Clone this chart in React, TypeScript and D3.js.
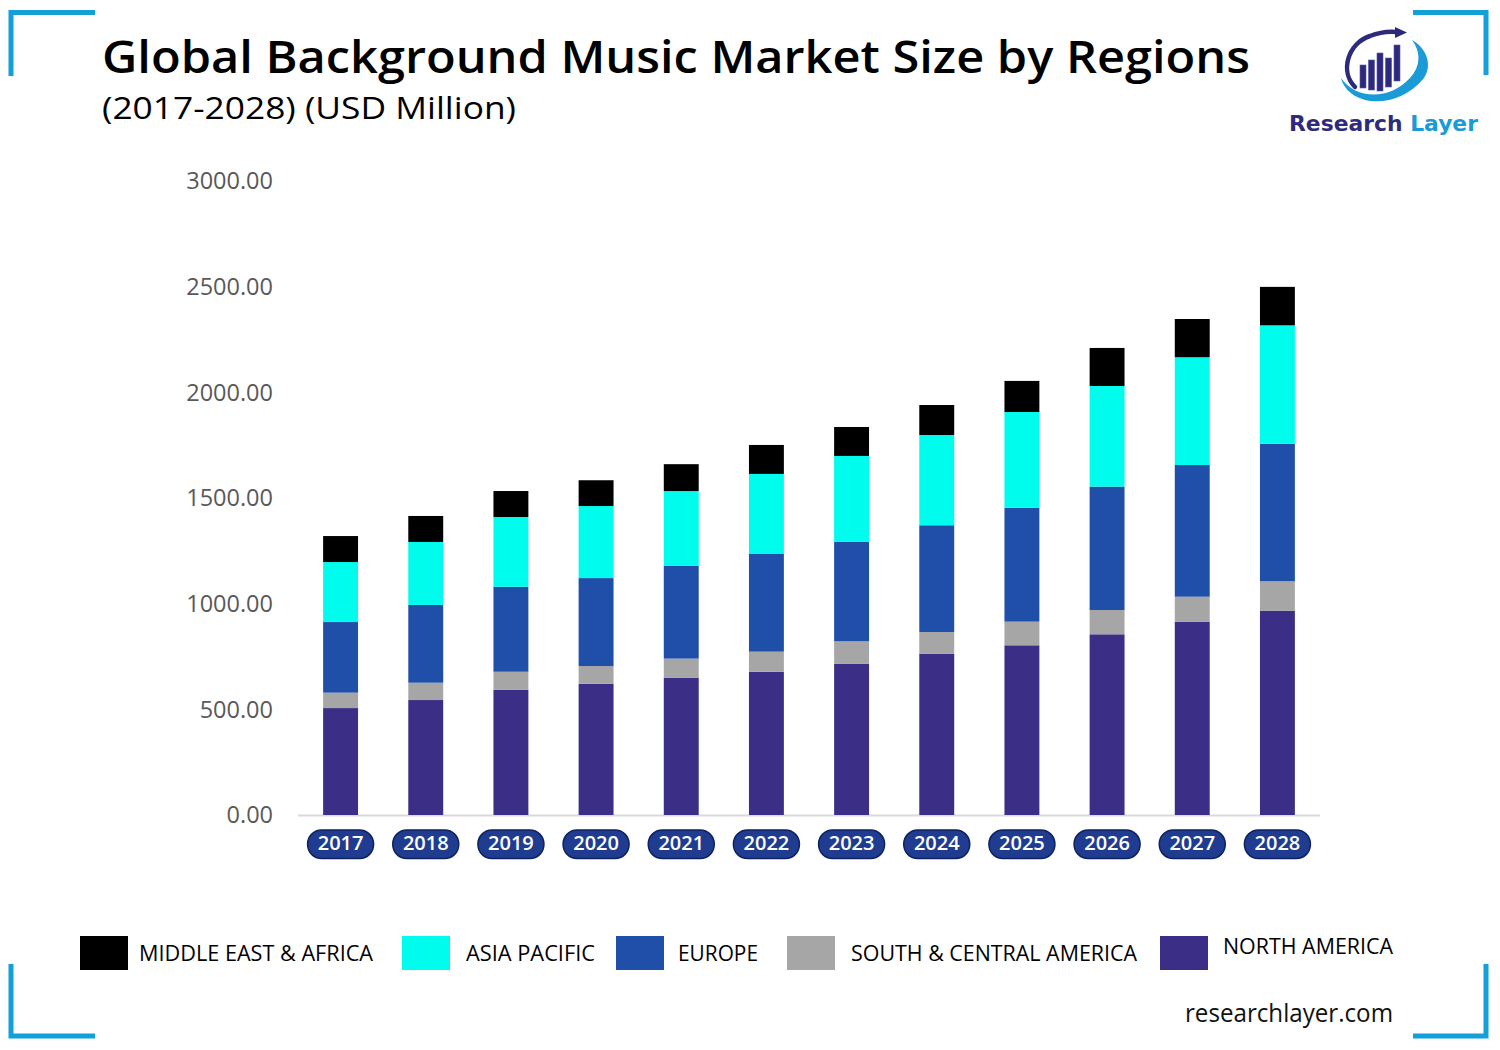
import React from 'react';
import * as d3 from 'd3';

const years = ['2017', '2018', '2019', '2020', '2021', '2022', '2023', '2024', '2025', '2026', '2027', '2028'];
const northAmerica = [506, 544, 592, 621, 650, 678, 715, 763, 803, 855, 915, 967];
const southCentralAmerica = [73, 82, 86, 84, 90, 95, 107, 103, 112, 115, 118, 139];
const europe = [334, 368, 402, 416, 440, 462, 470, 505, 539, 584, 623, 651];
const asiaPacific = [284, 298, 330, 341, 353, 379, 407, 427, 453, 476, 510, 560];
const middleEastAfrica = [123, 123, 123, 122, 127, 137, 137, 142, 147, 180, 181, 182];

const seriesKeys = ['na', 'sca', 'eu', 'ap', 'mea'];
const seriesLabels = ['NORTH AMERICA', 'SOUTH & CENTRAL AMERICA', 'EUROPE', 'ASIA PACIFIC', 'MIDDLE EAST & AFRICA'];
const seriesColors = ['#3b2e86', '#a6a6a6', '#1f4fa8', '#00fcec', '#000000'];
const yTicks = [0, 500, 1000, 1500, 2000, 2500, 3000];

const title = 'Global Background Music Market Size by Regions';
const subtitle = '(2017-2028) (USD Million)';

export default function App() {
  const rows = years.map((yr, i) => ({
    year: yr,
    na: northAmerica[i],
    sca: southCentralAmerica[i],
    eu: europe[i],
    ap: asiaPacific[i],
    mea: middleEastAfrica[i],
  }));
  const stacked = d3.stack<any>().keys(seriesKeys)(rows);

  const x = d3.scaleBand<string>().domain(years).range([298, 1320]).paddingInner(0.59).paddingOuter(0.295);
  const y = d3.scaleLinear().domain([0, 3000]).range([815, 181]);
  const fmt = d3.format('.2f');
  const bw = x.bandwidth();

  const cornerColor = '#139fd8';
  const font = "'Open Sans', 'Noto Sans', sans-serif";

  const legendItems = [
    { idx: 4, sx: 80, tx: 139, tw: 234, ty: 955 },
    { idx: 3, sx: 402, tx: 466, tw: 129, ty: 955 },
    { idx: 2, sx: 616, tx: 678, tw: 80, ty: 955 },
    { idx: 1, sx: 787, tx: 851, tw: 286, ty: 955 },
    { idx: 0, sx: 1160, tx: 1223, tw: 170, ty: 948 },
  ];

  const logoBars = [
    { x: 1360, top: 65, bottom: 88 },
    { x: 1368.5, top: 60, bottom: 90 },
    { x: 1377, top: 53, bottom: 91 },
    { x: 1385.5, top: 58, bottom: 87 },
    { x: 1394, top: 45, bottom: 81 },
  ];

  return (
    <svg width={1500} height={1050} style={{ position: 'absolute', left: 0, top: 0, background: '#fff' }}>
      <rect x={0} y={0} width={1500} height={1050} fill="#fff" />
      <g stroke={cornerColor} strokeWidth={5} fill="none">
        <path d="M11,76 V12.5 H95" />
        <path d="M1413,12.5 H1486 V75" />
        <path d="M11,964 V1036 H95" />
        <path d="M1413,1036 H1486 V964" />
      </g>

      <text x={102} y={73} fontFamily={font} fontWeight={600} fontSize={46} fill="#000" textLength={1148} lengthAdjust="spacingAndGlyphs">
        {title}
      </text>
      <text x={102} y={119} fontFamily={font} fontWeight={400} fontSize={30.5} fill="#000" textLength={414} lengthAdjust="spacingAndGlyphs">
        {subtitle}
      </text>

      {/* logo */}
      <g>
        <path d="M1341,78 C1348,106 1396,112 1424,78 C1433,64 1426,48 1412,40 C1421,52 1421,66 1410,78 C1390,100 1356,100 1341,78 Z" fill="#1a9ad6" />
        <path d="M1355,87 C1340,72 1347,44 1370,36 C1380,32 1389,31 1397,32" fill="none" stroke="#2d2a7c" strokeWidth={4.5} strokeLinecap="round" />
        <path d="M1395,27 L1407,32.5 L1395,38 Z" fill="#2d2a7c" />
        {logoBars.map((b, i) => (
          <rect key={i} x={b.x} y={b.top} width={6} height={b.bottom - b.top} fill="#2d2a7c" stroke="#5a57a6" strokeWidth={0.6} />
        ))}
        <text x={1289} y={131} fontFamily="'DejaVu Sans', 'Liberation Sans', sans-serif" fontWeight={700} fontSize={22} textLength={189} lengthAdjust="spacingAndGlyphs">
          <tspan fill="#2e2b7c">Research </tspan>
          <tspan fill="#1a9ad6">Layer</tspan>
        </text>
      </g>

      {yTicks.map((t) => (
        <text key={t} x={273} y={y(t) + 2} textAnchor="end" dominantBaseline="middle" fontFamily={font} fontSize={23.5} fill="#595959">
          {fmt(t)}
        </text>
      ))}

      <line x1={298} x2={1320} y1={815.5} y2={815.5} stroke="#d9d9d9" strokeWidth={2} />

      {stacked.map((s, si) => (
        <g key={s.key} fill={seriesColors[si]}>
          {s.map((d, i) => (
            <rect key={i} x={x(years[i])} y={y(d[1])} width={bw} height={y(d[0]) - y(d[1])} />
          ))}
        </g>
      ))}

      {years.map((yr) => {
        const cx = (x(yr) as number) + bw / 2;
        return (
          <g key={yr}>
            <rect x={cx - 33} y={830} width={66} height={28.5} rx={14} ry={14} fill="#1f3c91" stroke="#0e2260" strokeWidth={1.5} />
            <text x={cx} y={845} textAnchor="middle" dominantBaseline="middle" fontFamily={font} fontWeight={600} fontSize={20} fill="#fff">
              {yr}
            </text>
          </g>
        );
      })}

      {legendItems.map((it) => (
        <g key={it.idx}>
          <rect x={it.sx} y={936} width={48} height={34} fill={seriesColors[it.idx]} />
          <text x={it.tx} y={it.ty} dominantBaseline="middle" fontFamily={font} fontSize={22} fill="#000" textLength={it.tw} lengthAdjust="spacingAndGlyphs">
            {seriesLabels[it.idx]}
          </text>
        </g>
      ))}

      <text x={1185} y={1015} dominantBaseline="middle" fontFamily={font} fontSize={26} fill="#111" textLength={208} lengthAdjust="spacingAndGlyphs">
        researchlayer.com
      </text>
    </svg>
  );
}
